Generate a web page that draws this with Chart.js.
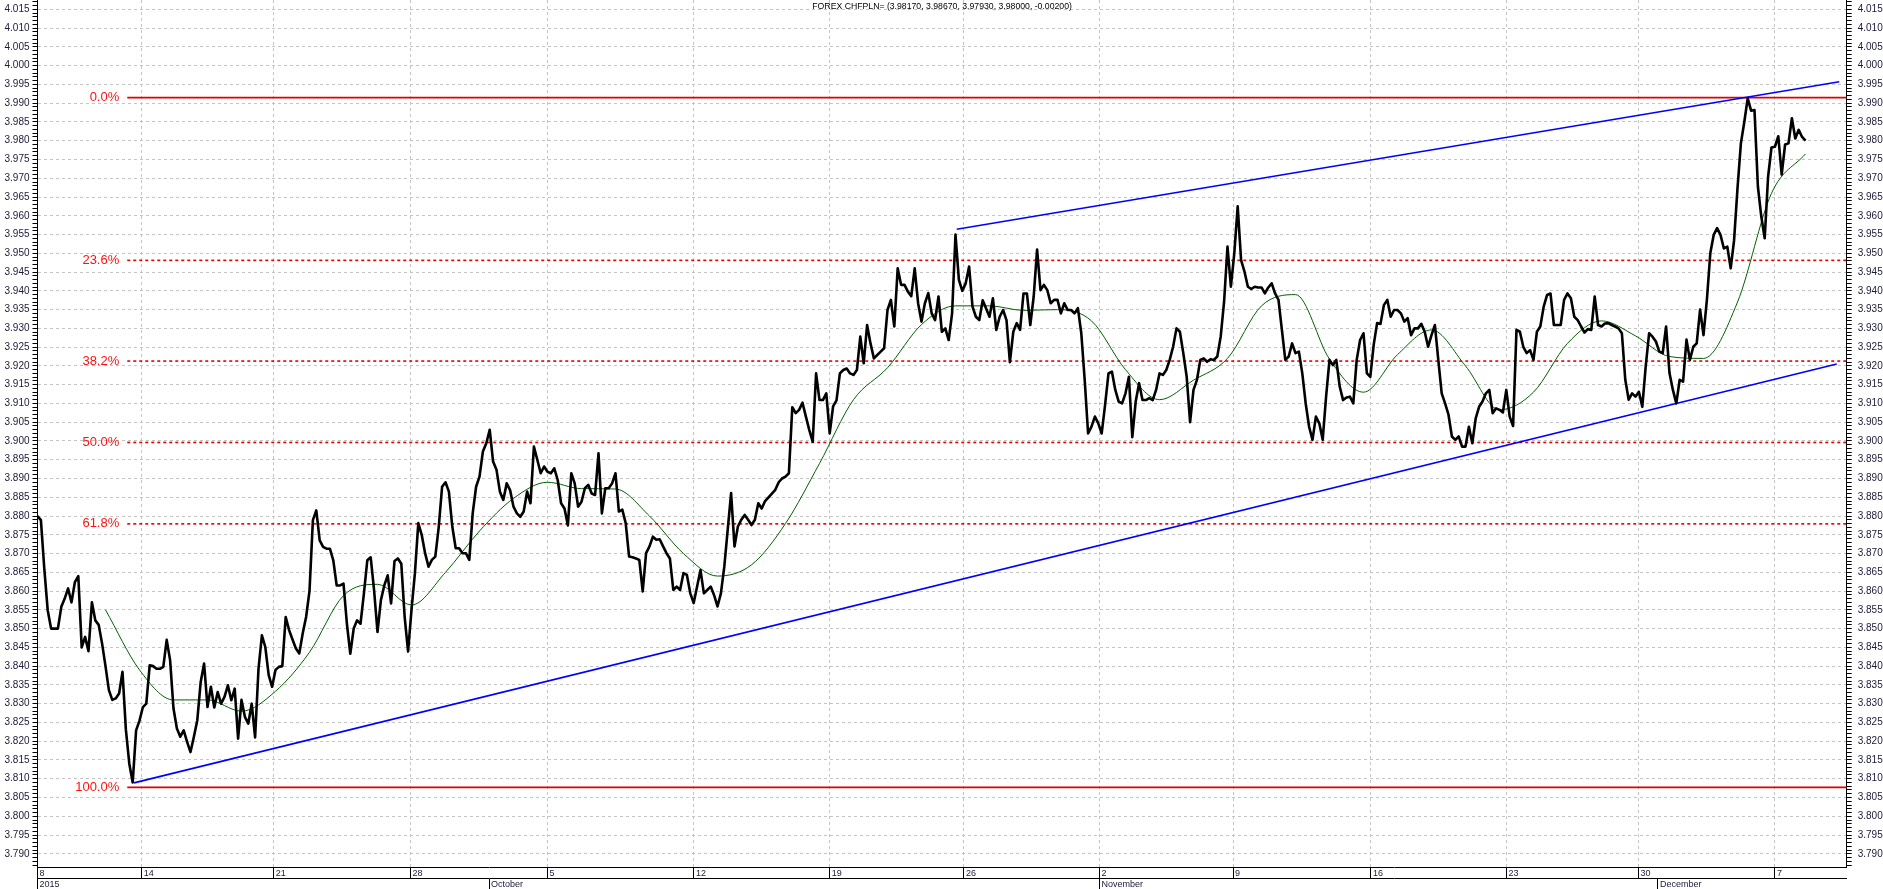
<!DOCTYPE html>
<html>
<head>
<meta charset="utf-8">
<title>FOREX CHFPLN=</title>
<script src="https://cdn.jsdelivr.net/npm/chart.js@4.4.0/dist/chart.umd.min.js"></script>
<style>
  html, body { margin: 0; padding: 0; background: #fff; overflow: hidden; }
  canvas { display: block; }
</style>
</head>
<body>
<canvas id="myChart" width="1883" height="889"></canvas>
<script>
// x unit = one step (about a quarter of a trading day), prices read every half step
const priceStep = 0.5;
const price = [
    3.880, 3.8789, 3.866, 3.8549, 3.850, 3.850, 3.850, 3.8558, 3.858, 3.8607,
    3.857, 3.8624, 3.864, 3.845, 3.8478, 3.844, 3.857, 3.8522, 3.851, 3.846,
    3.840, 3.8336, 3.831, 3.8314, 3.8327, 3.8385, 3.823, 3.814, 3.809, 3.8229,
    3.8255, 3.8291, 3.830, 3.8402, 3.840, 3.8393, 3.8393, 3.8398, 3.847, 3.8416,
    3.8287, 3.8234, 3.8212, 3.8229, 3.8198, 3.8171, 3.8212, 3.8256, 3.8358, 3.8407,
    3.8291, 3.8345, 3.829, 3.8331, 3.830, 3.8318, 3.8349, 3.8309, 3.834, 3.8207,
    3.831, 3.8265, 3.8247, 3.830, 3.821, 3.8393, 3.8482, 3.8451, 3.8376, 3.8345,
    3.839, 3.8398, 3.840, 3.8531, 3.8496, 3.8471, 3.8447, 3.8434, 3.8487, 3.8531,
    3.860, 3.8789, 3.8815, 3.8735, 3.8718, 3.8713, 3.8713, 3.8682, 3.8615, 3.8615,
    3.862, 3.8513, 3.8433, 3.850, 3.8522, 3.8513, 3.8593, 3.8682, 3.869, 3.8602,
    3.8491, 3.8576, 3.8615, 3.8642, 3.8567, 3.868, 3.8687, 3.8673, 3.853, 3.8439,
    3.855, 3.8647, 3.8781, 3.875, 3.8701, 3.8665, 3.8683, 3.8692, 3.877, 3.8878,
    3.889, 3.8865, 3.8772, 3.8714, 3.8714, 3.8701, 3.8701, 3.8683, 3.8807, 3.8878,
    3.8905, 3.8972, 3.8994, 3.903, 3.8945, 3.8923, 3.8865, 3.8843, 3.8887, 3.8869,
    3.8825, 3.8807, 3.8798, 3.8812, 3.8865, 3.8834, 3.8985, 3.895, 3.8914, 3.8932,
    3.8918, 3.8914, 3.8927, 3.8896, 3.8834, 3.882, 3.8775, 3.8914, 3.8887, 3.8825,
    3.8838, 3.8874, 3.8883, 3.886, 3.8856, 3.8967, 3.8807, 3.8874, 3.8874, 3.8887,
    3.8914, 3.8812, 3.8817, 3.8781, 3.8692, 3.869, 3.8687, 3.8683, 3.8599, 3.8701,
    3.8719, 3.8745, 3.8737, 3.8738, 3.8719, 3.8701, 3.8687, 3.8603, 3.8612, 3.8603,
    3.8648, 3.8643, 3.8594, 3.8568, 3.8612, 3.8656, 3.8594, 3.8603, 3.8612, 3.8589,
    3.8559, 3.8594, 3.8665, 3.8763, 3.8861, 3.8719, 3.8772, 3.879, 3.8803, 3.879,
    3.8776, 3.879, 3.8834, 3.882, 3.884, 3.885, 3.886, 3.887, 3.889, 3.890,
    3.8905, 3.8914, 3.909, 3.9074, 3.9083, 3.9102, 3.9065, 3.9029, 3.8998, 3.918,
    3.9109, 3.9109, 3.9127, 3.902, 3.9092, 3.9108, 3.918, 3.9189, 3.9193, 3.918,
    3.9176, 3.9189, 3.9278, 3.9207, 3.9309, 3.926, 3.922, 3.9229, 3.9238, 3.9247,
    3.9349, 3.9376, 3.9305, 3.946, 3.9416, 3.9416, 3.9398, 3.9386, 3.946, 3.9367,
    3.9318, 3.9367, 3.9394, 3.934, 3.9322, 3.9385, 3.9291, 3.930, 3.9269, 3.934,
    3.955, 3.9429, 3.940, 3.942, 3.9465, 3.9358, 3.9331, 3.9322, 3.9375, 3.9353,
    3.9331, 3.938, 3.9296, 3.9331, 3.9349, 3.9322, 3.921, 3.9291, 3.9314, 3.9296,
    3.9393, 3.9393, 3.9309, 3.9385, 3.951, 3.9402, 3.9416, 3.9402, 3.9367, 3.9376,
    3.9376, 3.934, 3.9367, 3.9349, 3.9349, 3.934, 3.9354, 3.9287, 3.9163, 3.902,
    3.9038, 3.9065, 3.9047, 3.902, 3.9096, 3.918, 3.9185, 3.9136, 3.9105, 3.910,
    3.9127, 3.9171, 3.901, 3.9105, 3.9154, 3.9109, 3.9109, 3.9114, 3.9109, 3.9136,
    3.918, 3.9176, 3.9189, 3.9216, 3.9251, 3.930, 3.9291, 3.9234, 3.9171, 3.905,
    3.9136, 3.9162, 3.9216, 3.922, 3.9211, 3.9218, 3.9216, 3.9225, 3.9278, 3.9371,
    3.9518, 3.9411, 3.950, 3.9625, 3.9482, 3.9451, 3.9411, 3.9405, 3.9411, 3.9409,
    3.9409, 3.9393, 3.9409, 3.942, 3.9393, 3.9376, 3.9296, 3.9216, 3.9225, 3.926,
    3.9234, 3.9238, 3.918, 3.910, 3.9038, 3.9003, 3.9065, 3.9047, 3.9003, 3.9118,
    3.9216, 3.9202, 3.9216, 3.9145, 3.9109, 3.9116, 3.9118, 3.910, 3.9216, 3.9269,
    3.9287, 3.918, 3.9171, 3.9256, 3.9314, 3.9312, 3.9362, 3.9376, 3.9331, 3.9349,
    3.9349, 3.934, 3.9318, 3.9327, 3.9282, 3.930, 3.930, 3.9312, 3.9291, 3.9251,
    3.9282, 3.9309, 3.9216, 3.9127, 3.910, 3.907, 3.9012, 3.9003, 3.9012, 3.8985,
    3.8985, 3.9038, 3.8994, 3.906, 3.9091, 3.9105, 3.9127, 3.9136, 3.9074, 3.9087,
    3.9083, 3.9076, 3.9136, 3.9065, 3.904, 3.9296, 3.9291, 3.9251, 3.9234, 3.9242,
    3.9216, 3.9291, 3.9305, 3.9358, 3.9389, 3.9393, 3.9309, 3.9309, 3.9309, 3.9376,
    3.9393, 3.938, 3.9331, 3.9322, 3.9305, 3.9289, 3.9298, 3.9296, 3.9385, 3.9309,
    3.9305, 3.9313, 3.9314, 3.9309, 3.9305, 3.930, 3.9287, 3.9163, 3.911, 3.9127,
    3.9118, 3.9131, 3.9091, 3.9198, 3.9287, 3.9278, 3.9265, 3.9238, 3.9234, 3.9305,
    3.9181, 3.9136, 3.910, 3.9163, 3.9158, 3.927, 3.9216, 3.9251, 3.926, 3.935,
    3.9282, 3.9376, 3.950, 3.9549, 3.9567, 3.9549, 3.9513, 3.9518, 3.946, 3.9535,
    3.9673, 3.9793, 3.985, 3.9913, 3.988, 3.9882, 3.9678, 3.9598, 3.954, 3.9704,
    3.9782, 3.9784, 3.9812, 3.971, 3.979, 3.9793, 3.986, 3.9806, 3.9829, 3.981,
    3.980
];

// moving average, one value every 5 steps starting at step 10
const maStart = 10;
const maStep = 5;
const maValues = [
    3.855, 3.839, 3.831, 3.831, 3.828, 3.8333, 3.8437, 3.8588, 3.8618, 3.8563,
    3.865, 3.876, 3.8847, 3.889, 3.8873, 3.8872, 3.880, 3.870, 3.864, 3.867,
    3.878, 3.894, 3.911, 3.9195, 3.931, 3.936, 3.936, 3.9348, 3.935, 3.932,
    3.919, 3.911, 3.9162, 3.922, 3.936, 3.939, 3.9218, 3.913, 3.923, 3.9296,
    3.920, 3.9083, 3.913, 3.926, 3.932, 3.928, 3.9225, 3.922, 3.937, 3.966,
    3.9765
];

// trend channel
const lowerTrend = [{ x: 14.19, y: 3.8089 }, { x: 264.6, y: 3.9205 }];
const upperTrend = [{ x: 135.18, y: 3.9564 }, { x: 264.97, y: 3.9957 }];

// fibonacci retracement
const fibHigh = 3.9915;
const fibLow = 3.8077;
const fibRatios = [0, 0.236, 0.382, 0.5, 0.618, 1];
const fibLabels = ['0.0%', '23.6%', '38.2%', '50.0%', '61.8%', '100.0%'];
const fibStartX = 13.2;

// time axis
const weekPos = [0, 15.32, 34.75, 54.85, 75.01, 96.54, 116.51, 136.25, 156.18, 175.81, 196.1, 216.03, 235.44, 255.51];
const weekLabels = ['8', '14', '21', '28', '5', '12', '19', '26', '2', '9', '16', '23', '30', '7'];
const monthPos = [0, 66.4, 156.18, 238.3];
const monthLabels = ['2015', 'October', 'November', 'December'];

const titleText = 'FOREX CHFPLN= (3.98170, 3.98670, 3.97930, 3.98000, -0.00200)';

const X_MIN = 0, X_MAX = 266.06;
const Y_MIN = 3.7864, Y_MAX = 4.0175;

const FONT = '"Liberation Sans", Arial, sans-serif';
const tickText = '#1a1a3a';
const gridGrey = '#c4c4c4';

function fibLevel(r) {
    return fibHigh - r * (fibHigh - fibLow);
}

function isMajor(v) {
    return Math.round(v * 1000) % 5 === 0;
}

function priceTicks(scale) {
    let t = [];
    for (let k = 3787; k <= 4017; k++) t.push({ value: k / 1000 });
    scale.ticks = t;
}

let fibSets = fibRatios.map(function (r) {
    let solid = (r === 0 || r === 1);
    return {
        data: [{ x: fibStartX, y: fibLevel(r) }, { x: X_MAX, y: fibLevel(r) }],
        borderColor: '#e00000',
        borderWidth: 1.6,
        borderDash: solid ? [] : [3, 3],
        order: 5
    };
});

const overlay = {
    id: 'overlay',
    afterDatasetsDraw(chart) {
        const ctx = chart.ctx;
        const x = chart.scales.x;
        const y = chart.scales.y;
        ctx.save();
        ctx.font = '13px "Liberation Sans Narrow", ' + FONT;
        ctx.fillStyle = '#ff1010';
        ctx.textAlign = 'right';
        ctx.textBaseline = 'middle';
        fibRatios.forEach(function (r, k) {
            ctx.fillText(fibLabels[k], x.getPixelForValue(fibStartX) - 8, y.getPixelForValue(fibLevel(r)));
        });
        ctx.font = '8.7px ' + FONT;
        ctx.fillStyle = '#000';
        ctx.textAlign = 'center';
        ctx.fillText(titleText, (chart.chartArea.left + chart.chartArea.right) / 2, 7);
        ctx.restore();
    }
};

const ctx = document.getElementById('myChart');

new Chart(ctx, {
    type: 'line',
    data: {
        datasets: [{
            data: price.map((v, i) => ({ x: i * priceStep, y: v })),
            borderColor: '#000',
            borderWidth: 2.6,
            borderJoinStyle: 'round',
            order: 1
        }, {
            data: maValues.map((v, k) => ({ x: maStart + k * maStep, y: v })),
            borderColor: '#006000',
            borderWidth: 1,
            cubicInterpolationMode: 'monotone',
            order: 2
        }, {
            data: lowerTrend,
            borderColor: '#0000ff',
            borderWidth: 1.6,
            order: 3
        }, {
            data: upperTrend,
            borderColor: '#0000ff',
            borderWidth: 1.6,
            order: 3
        }].concat(fibSets)
    },
    options: {
        responsive: false,
        animation: false,
        devicePixelRatio: 1,
        layout: { padding: 0 },
        elements: { point: { radius: 0 }, line: { tension: 0 } },
        plugins: { legend: { display: false }, tooltip: { enabled: false } },
        scales: {
            x: {
                type: 'linear', position: 'bottom', weight: 0,
                min: X_MIN, max: X_MAX,
                afterBuildTicks: s => { s.ticks = weekPos.map(v => ({ value: v })); },
                afterFit: s => { s.height = 11; s.paddingLeft = 0; s.paddingRight = 0; },
                grid: {
                    color: c => c.index === 0 ? 'rgba(0,0,0,0)' : gridGrey,
                    tickColor: '#000', tickLength: 11, tickBorderDash: []
                },
                border: { color: '#000', dash: [3, 3] },
                ticks: {
                    autoSkip: false, maxRotation: 0, align: 'start', labelOffset: 2, padding: -10.6,
                    font: { family: FONT, size: 9 }, color: tickText,
                    callback: (v, i) => weekLabels[i]
                }
            },
            x2: {
                type: 'linear', position: 'bottom', weight: 1,
                min: X_MIN, max: X_MAX,
                afterBuildTicks: s => { s.ticks = monthPos.map(v => ({ value: v })); },
                afterFit: s => { s.height = 10.7; s.paddingLeft = 0; s.paddingRight = 0; },
                grid: { drawOnChartArea: false, color: '#000', tickLength: 10.7 },
                border: { color: '#000' },
                ticks: {
                    autoSkip: false, maxRotation: 0, align: 'start', labelOffset: 2, padding: -9.4,
                    font: { family: FONT, size: 9 }, color: tickText,
                    callback: (v, i) => monthLabels[i]
                }
            },
            y: {
                position: 'left',
                min: Y_MIN, max: Y_MAX,
                afterBuildTicks: priceTicks,
                afterFit: s => { s.width = 37.5; s.paddingTop = 0; s.paddingBottom = 0; },
                grid: {
                    color: c => (c.tick && isMajor(c.tick.value)) ? gridGrey : 'rgba(0,0,0,0)',
                    tickColor: '#000', tickLength: 5, tickBorderDash: []
                },
                border: { color: '#000', dash: [3, 3] },
                ticks: {
                    autoSkip: false, padding: 3,
                    font: { family: FONT, size: 10 }, color: tickText,
                    callback: v => isMajor(v) ? v.toFixed(3) : ''
                }
            },
            yR: {
                position: 'right',
                min: Y_MIN, max: Y_MAX,
                afterBuildTicks: priceTicks,
                afterFit: s => { s.width = 36.3; s.paddingTop = 0; s.paddingBottom = 0; },
                grid: { drawOnChartArea: false, color: '#000', tickLength: 5 },
                border: { color: '#000' },
                ticks: {
                    autoSkip: false, padding: 6,
                    font: { family: FONT, size: 10 }, color: tickText,
                    callback: v => isMajor(v) ? v.toFixed(3) : ''
                }
            }
        }
    },
    plugins: [overlay]
});
</script>
</body>
</html>
